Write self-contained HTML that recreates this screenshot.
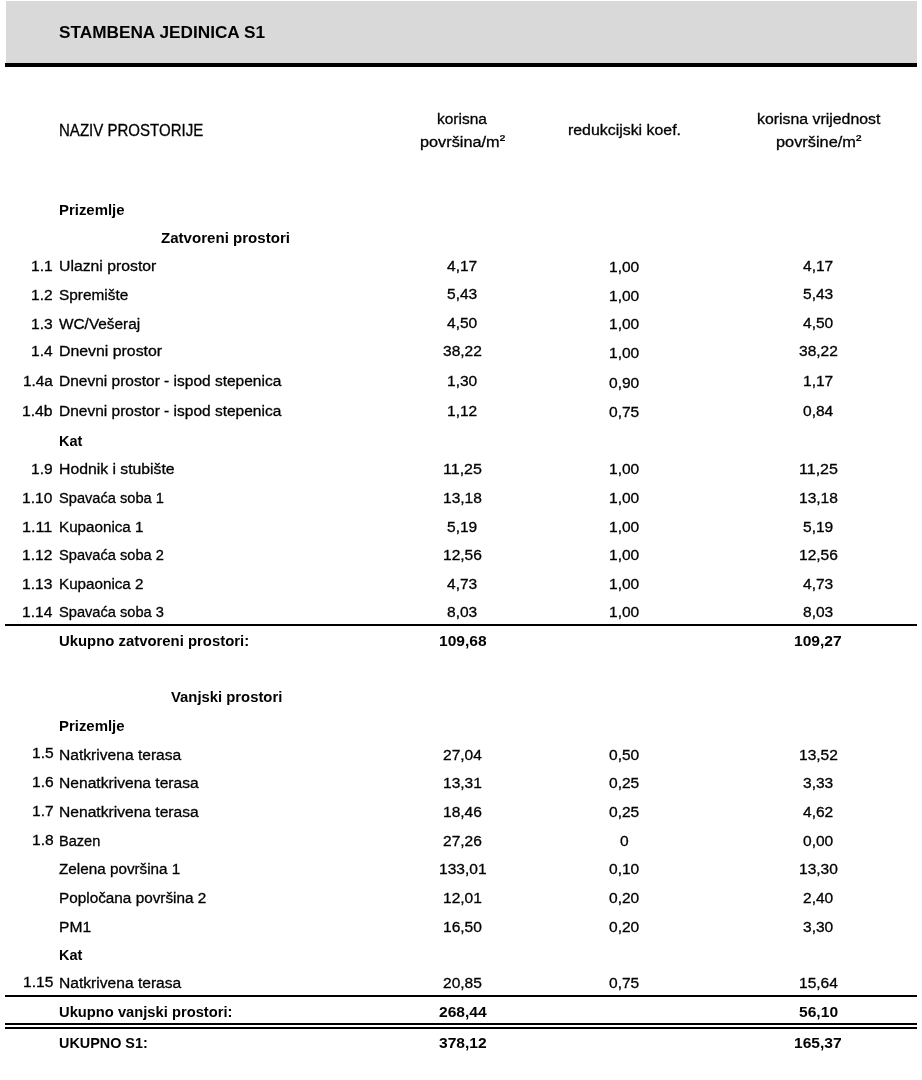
<!DOCTYPE html>
<html lang="hr">
<head>
<meta charset="utf-8">
<title>STAMBENA JEDINICA S1</title>
<style>
html,body{margin:0;padding:0;background:#fff;}
body{width:922px;height:1080px;position:relative;overflow:hidden;color:#000;}
.r{position:absolute;}
h1,.head,.row{margin:0;padding:0;font-size:inherit;font-weight:normal;}
.t{position:absolute;white-space:pre;line-height:24px;transform-origin:0 0;-webkit-text-stroke:0.3px #000;}
.b{font-weight:bold;-webkit-text-stroke:0;}
.s{position:relative;top:-2.5px;}
.t{font-family:"Liberation Sans",sans-serif;}
</style>
</head>
<body>
<div class="r" style="left:6.0px;top:1.3px;width:910.9px;height:61.4px;background:#d9d9d9"></div>
<div class="r" style="left:4.8px;top:63.0px;width:912.2px;height:3.9px;background:#000"></div>
<div class="r" style="left:4.8px;top:623.9px;width:912.2px;height:2.1px;background:#000"></div>
<div class="r" style="left:4.8px;top:995.0px;width:912.2px;height:2.1px;background:#000"></div>
<div class="r" style="left:4.8px;top:1022.8px;width:912.2px;height:2.1px;background:#000"></div>
<div class="r" style="left:4.8px;top:1026.5px;width:912.2px;height:2.0px;background:#000"></div>
<h1 class="title">
  <span class="t b" style="left:58.5px;top:20px;font-size:17.40px;transform:scaleX(0.9900)">STAMBENA JEDINICA S1</span>
</h1>
<div class="head">
  <span class="t" style="left:59.3px;top:118px;font-size:16.36px;transform:scaleX(0.9187)">NAZIV PROSTORIJE</span>
  <span class="t" style="left:437.4px;top:107px;font-size:14.96px;transform:scaleX(1.0360)">korisna</span>
  <span class="t" style="left:419.9px;top:130px;font-size:14.96px;transform:scaleX(1.0892)">površina/m<span class="s">²</span></span>
  <span class="t" style="left:567.5px;top:118px;font-size:14.96px;transform:scaleX(1.0623)">redukcijski koef.</span>
  <span class="t" style="left:756.5px;top:107px;font-size:14.96px;transform:scaleX(1.0605)">korisna vrijednost</span>
  <span class="t" style="left:775.5px;top:130px;font-size:14.96px;transform:scaleX(1.0932)">površine/m<span class="s">²</span></span>
</div>
<div class="row">
  <span class="t b" style="left:59.0px;top:198px;font-size:14.96px;transform:scaleX(0.9979)">Prizemlje</span>
</div>
<div class="row">
  <span class="t b" style="left:161.4px;top:226px;font-size:14.96px;transform:scaleX(1.0082)">Zatvoreni prostori</span>
</div>
<div class="row">
  <span class="t" style="left:30.6px;top:254px;font-size:14.96px;transform:scaleX(1.0413)">1.1</span>
  <span class="t" style="left:59.0px;top:254px;font-size:14.96px;transform:scaleX(1.0549)">Ulazni prostor</span>
  <span class="t" style="left:447.3px;top:254px;font-size:14.96px;transform:scaleX(1.0397)">4,17</span>
  <span class="t" style="left:608.9px;top:255px;font-size:14.96px;transform:scaleX(1.0397)">1,00</span>
  <span class="t" style="left:803.1px;top:254px;font-size:14.96px;transform:scaleX(1.0397)">4,17</span>
</div>
<div class="row">
  <span class="t" style="left:30.6px;top:283px;font-size:14.96px;transform:scaleX(1.0413)">1.2</span>
  <span class="t" style="left:59.0px;top:283px;font-size:14.96px;transform:scaleX(1.0281)">Spremište</span>
  <span class="t" style="left:447.3px;top:282px;font-size:14.96px;transform:scaleX(1.0397)">5,43</span>
  <span class="t" style="left:608.9px;top:284px;font-size:14.96px;transform:scaleX(1.0397)">1,00</span>
  <span class="t" style="left:803.1px;top:282px;font-size:14.96px;transform:scaleX(1.0397)">5,43</span>
</div>
<div class="row">
  <span class="t" style="left:30.6px;top:312px;font-size:14.96px;transform:scaleX(1.0413)">1.3</span>
  <span class="t" style="left:59.0px;top:312px;font-size:14.96px;transform:scaleX(1.0281)">WC/Vešeraj</span>
  <span class="t" style="left:447.3px;top:311px;font-size:14.96px;transform:scaleX(1.0397)">4,50</span>
  <span class="t" style="left:608.9px;top:312px;font-size:14.96px;transform:scaleX(1.0397)">1,00</span>
  <span class="t" style="left:803.1px;top:311px;font-size:14.96px;transform:scaleX(1.0397)">4,50</span>
</div>
<div class="row">
  <span class="t" style="left:30.6px;top:339px;font-size:14.96px;transform:scaleX(1.0413)">1.4</span>
  <span class="t" style="left:59.0px;top:339px;font-size:14.96px;transform:scaleX(1.0604)">Dnevni prostor</span>
  <span class="t" style="left:442.9px;top:339px;font-size:14.96px;transform:scaleX(1.0401)">38,22</span>
  <span class="t" style="left:608.9px;top:341px;font-size:14.96px;transform:scaleX(1.0397)">1,00</span>
  <span class="t" style="left:798.7px;top:339px;font-size:14.96px;transform:scaleX(1.0401)">38,22</span>
</div>
<div class="row">
  <span class="t" style="left:22.5px;top:369px;font-size:14.96px;transform:scaleX(1.0252)">1.4a</span>
  <span class="t" style="left:59.0px;top:369px;font-size:14.96px;transform:scaleX(1.0366)">Dnevni prostor - ispod stepenica</span>
  <span class="t" style="left:447.3px;top:369px;font-size:14.96px;transform:scaleX(1.0397)">1,30</span>
  <span class="t" style="left:608.9px;top:371px;font-size:14.96px;transform:scaleX(1.0397)">0,90</span>
  <span class="t" style="left:803.1px;top:369px;font-size:14.96px;transform:scaleX(1.0397)">1,17</span>
</div>
<div class="row">
  <span class="t" style="left:21.7px;top:399px;font-size:14.96px;transform:scaleX(1.0521)">1.4b</span>
  <span class="t" style="left:59.0px;top:399px;font-size:14.96px;transform:scaleX(1.0366)">Dnevni prostor - ispod stepenica</span>
  <span class="t" style="left:447.3px;top:399px;font-size:14.96px;transform:scaleX(1.0397)">1,12</span>
  <span class="t" style="left:608.9px;top:400px;font-size:14.96px;transform:scaleX(1.0397)">0,75</span>
  <span class="t" style="left:803.1px;top:399px;font-size:14.96px;transform:scaleX(1.0397)">0,84</span>
</div>
<div class="row">
  <span class="t b" style="left:59.0px;top:429px;font-size:14.96px;transform:scaleX(0.9682)">Kat</span>
</div>
<div class="row">
  <span class="t" style="left:30.6px;top:457px;font-size:14.96px;transform:scaleX(1.0413)">1.9</span>
  <span class="t" style="left:59.0px;top:457px;font-size:14.96px;transform:scaleX(1.0538)">Hodnik i stubište</span>
  <span class="t" style="left:442.9px;top:457px;font-size:14.96px;transform:scaleX(1.0719)">11,25</span>
  <span class="t" style="left:608.9px;top:457px;font-size:14.96px;transform:scaleX(1.0397)">1,00</span>
  <span class="t" style="left:798.7px;top:457px;font-size:14.96px;transform:scaleX(1.0719)">11,25</span>
</div>
<div class="row">
  <span class="t" style="left:22.0px;top:486px;font-size:14.96px;transform:scaleX(1.0413)">1.10</span>
  <span class="t" style="left:59.0px;top:486px;font-size:14.96px;transform:scaleX(0.9784)">Spavaća soba 1</span>
  <span class="t" style="left:442.9px;top:486px;font-size:14.96px;transform:scaleX(1.0401)">13,18</span>
  <span class="t" style="left:608.9px;top:486px;font-size:14.96px;transform:scaleX(1.0397)">1,00</span>
  <span class="t" style="left:798.7px;top:486px;font-size:14.96px;transform:scaleX(1.0401)">13,18</span>
</div>
<div class="row">
  <span class="t" style="left:22.0px;top:515px;font-size:14.96px;transform:scaleX(1.0826)">1.11</span>
  <span class="t" style="left:59.0px;top:515px;font-size:14.96px;transform:scaleX(1.0162)">Kupaonica 1</span>
  <span class="t" style="left:447.3px;top:515px;font-size:14.96px;transform:scaleX(1.0397)">5,19</span>
  <span class="t" style="left:608.9px;top:515px;font-size:14.96px;transform:scaleX(1.0397)">1,00</span>
  <span class="t" style="left:803.1px;top:515px;font-size:14.96px;transform:scaleX(1.0397)">5,19</span>
</div>
<div class="row">
  <span class="t" style="left:22.0px;top:543px;font-size:14.96px;transform:scaleX(1.0413)">1.12</span>
  <span class="t" style="left:59.0px;top:543px;font-size:14.96px;transform:scaleX(0.9784)">Spavaća soba 2</span>
  <span class="t" style="left:442.9px;top:543px;font-size:14.96px;transform:scaleX(1.0401)">12,56</span>
  <span class="t" style="left:608.9px;top:543px;font-size:14.96px;transform:scaleX(1.0397)">1,00</span>
  <span class="t" style="left:798.7px;top:543px;font-size:14.96px;transform:scaleX(1.0401)">12,56</span>
</div>
<div class="row">
  <span class="t" style="left:22.0px;top:572px;font-size:14.96px;transform:scaleX(1.0413)">1.13</span>
  <span class="t" style="left:59.0px;top:572px;font-size:14.96px;transform:scaleX(1.0162)">Kupaonica 2</span>
  <span class="t" style="left:447.3px;top:572px;font-size:14.96px;transform:scaleX(1.0397)">4,73</span>
  <span class="t" style="left:608.9px;top:572px;font-size:14.96px;transform:scaleX(1.0397)">1,00</span>
  <span class="t" style="left:803.1px;top:572px;font-size:14.96px;transform:scaleX(1.0397)">4,73</span>
</div>
<div class="row">
  <span class="t" style="left:22.0px;top:600px;font-size:14.96px;transform:scaleX(1.0413)">1.14</span>
  <span class="t" style="left:59.0px;top:600px;font-size:14.96px;transform:scaleX(0.9784)">Spavaća soba 3</span>
  <span class="t" style="left:447.3px;top:600px;font-size:14.96px;transform:scaleX(1.0397)">8,03</span>
  <span class="t" style="left:608.9px;top:600px;font-size:14.96px;transform:scaleX(1.0397)">1,00</span>
  <span class="t" style="left:803.1px;top:600px;font-size:14.96px;transform:scaleX(1.0397)">8,03</span>
</div>
<div class="row">
  <span class="t b" style="left:59.0px;top:629px;font-size:14.96px;transform:scaleX(0.9952)">Ukupno zatvoreni prostori:</span>
  <span class="t b" style="left:438.5px;top:629px;font-size:14.96px;transform:scaleX(1.0434)">109,68</span>
  <span class="t b" style="left:794.3px;top:629px;font-size:14.96px;transform:scaleX(1.0434)">109,27</span>
</div>
<div class="row">
  <span class="t b" style="left:170.6px;top:685px;font-size:14.96px;transform:scaleX(0.9921)">Vanjski prostori</span>
</div>
<div class="row">
  <span class="t b" style="left:59.0px;top:714px;font-size:14.96px;transform:scaleX(0.9979)">Prizemlje</span>
</div>
<div class="row">
  <span class="t" style="left:31.8px;top:741px;font-size:14.96px;transform:scaleX(1.0413)">1.5</span>
  <span class="t" style="left:59.0px;top:743px;font-size:14.96px;transform:scaleX(1.0433)">Natkrivena terasa</span>
  <span class="t" style="left:442.9px;top:743px;font-size:14.96px;transform:scaleX(1.0401)">27,04</span>
  <span class="t" style="left:608.9px;top:743px;font-size:14.96px;transform:scaleX(1.0397)">0,50</span>
  <span class="t" style="left:798.7px;top:743px;font-size:14.96px;transform:scaleX(1.0401)">13,52</span>
</div>
<div class="row">
  <span class="t" style="left:31.8px;top:770px;font-size:14.96px;transform:scaleX(1.0413)">1.6</span>
  <span class="t" style="left:59.0px;top:771px;font-size:14.96px;transform:scaleX(1.0442)">Nenatkrivena terasa</span>
  <span class="t" style="left:442.9px;top:771px;font-size:14.96px;transform:scaleX(1.0401)">13,31</span>
  <span class="t" style="left:608.9px;top:771px;font-size:14.96px;transform:scaleX(1.0397)">0,25</span>
  <span class="t" style="left:803.1px;top:771px;font-size:14.96px;transform:scaleX(1.0397)">3,33</span>
</div>
<div class="row">
  <span class="t" style="left:31.8px;top:799px;font-size:14.96px;transform:scaleX(1.0413)">1.7</span>
  <span class="t" style="left:59.0px;top:800px;font-size:14.96px;transform:scaleX(1.0442)">Nenatkrivena terasa</span>
  <span class="t" style="left:442.9px;top:800px;font-size:14.96px;transform:scaleX(1.0401)">18,46</span>
  <span class="t" style="left:608.9px;top:800px;font-size:14.96px;transform:scaleX(1.0397)">0,25</span>
  <span class="t" style="left:803.1px;top:800px;font-size:14.96px;transform:scaleX(1.0397)">4,62</span>
</div>
<div class="row">
  <span class="t" style="left:31.8px;top:828px;font-size:14.96px;transform:scaleX(1.0413)">1.8</span>
  <span class="t" style="left:59.0px;top:829px;font-size:14.96px;transform:scaleX(0.9749)">Bazen</span>
  <span class="t" style="left:442.9px;top:829px;font-size:14.96px;transform:scaleX(1.0401)">27,26</span>
  <span class="t" style="left:619.7px;top:829px;font-size:14.96px;transform:scaleX(1.0413)">0</span>
  <span class="t" style="left:803.1px;top:829px;font-size:14.96px;transform:scaleX(1.0397)">0,00</span>
</div>
<div class="row">
  <span class="t" style="left:59.0px;top:857px;font-size:14.96px;transform:scaleX(1.0206)">Zelena površina 1</span>
  <span class="t" style="left:438.6px;top:857px;font-size:14.96px;transform:scaleX(1.0403)">133,01</span>
  <span class="t" style="left:608.9px;top:857px;font-size:14.96px;transform:scaleX(1.0397)">0,10</span>
  <span class="t" style="left:798.7px;top:857px;font-size:14.96px;transform:scaleX(1.0401)">13,30</span>
</div>
<div class="row">
  <span class="t" style="left:59.0px;top:886px;font-size:14.96px;transform:scaleX(1.0244)">Popločana površina 2</span>
  <span class="t" style="left:442.9px;top:886px;font-size:14.96px;transform:scaleX(1.0401)">12,01</span>
  <span class="t" style="left:608.9px;top:886px;font-size:14.96px;transform:scaleX(1.0397)">0,20</span>
  <span class="t" style="left:803.1px;top:886px;font-size:14.96px;transform:scaleX(1.0397)">2,40</span>
</div>
<div class="row">
  <span class="t" style="left:59.0px;top:915px;font-size:14.96px;transform:scaleX(1.0442)">PM1</span>
  <span class="t" style="left:442.9px;top:915px;font-size:14.96px;transform:scaleX(1.0401)">16,50</span>
  <span class="t" style="left:608.9px;top:915px;font-size:14.96px;transform:scaleX(1.0397)">0,20</span>
  <span class="t" style="left:803.1px;top:915px;font-size:14.96px;transform:scaleX(1.0397)">3,30</span>
</div>
<div class="row">
  <span class="t b" style="left:59.0px;top:943px;font-size:14.96px;transform:scaleX(0.9682)">Kat</span>
</div>
<div class="row">
  <span class="t" style="left:23.2px;top:970px;font-size:14.96px;transform:scaleX(1.0413)">1.15</span>
  <span class="t" style="left:59.0px;top:971px;font-size:14.96px;transform:scaleX(1.0433)">Natkrivena terasa</span>
  <span class="t" style="left:442.9px;top:971px;font-size:14.96px;transform:scaleX(1.0401)">20,85</span>
  <span class="t" style="left:608.9px;top:971px;font-size:14.96px;transform:scaleX(1.0397)">0,75</span>
  <span class="t" style="left:798.7px;top:971px;font-size:14.96px;transform:scaleX(1.0401)">15,64</span>
</div>
<div class="row">
  <span class="t b" style="left:59.0px;top:1000px;font-size:14.96px;transform:scaleX(0.9847)">Ukupno vanjski prostori:</span>
  <span class="t b" style="left:438.5px;top:1000px;font-size:14.96px;transform:scaleX(1.0434)">268,44</span>
  <span class="t b" style="left:798.7px;top:1000px;font-size:14.96px;transform:scaleX(1.0438)">56,10</span>
</div>
<div class="row">
  <span class="t b" style="left:59.0px;top:1031px;font-size:14.96px;transform:scaleX(0.9617)">UKUPNO S1:</span>
  <span class="t b" style="left:438.5px;top:1031px;font-size:14.96px;transform:scaleX(1.0434)">378,12</span>
  <span class="t b" style="left:794.3px;top:1031px;font-size:14.96px;transform:scaleX(1.0434)">165,37</span>
</div>
</body>
</html>
